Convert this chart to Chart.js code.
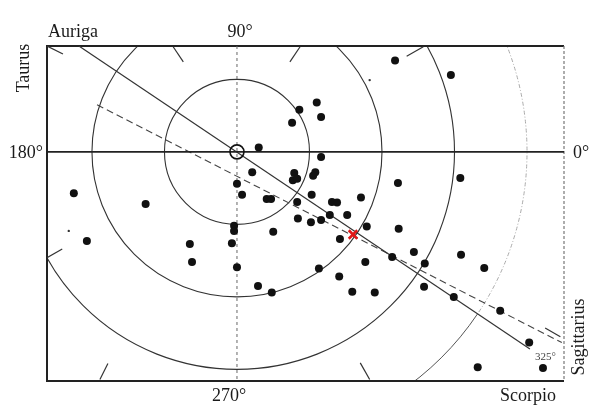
<!DOCTYPE html>
<html>
<head>
<meta charset="utf-8">
<script src="https://cdn.jsdelivr.net/npm/chart.js@4/dist/chart.umd.min.js"></script>
<style>
  html, body { margin: 0; padding: 0; background: #fff; }
  #wrap { width: 600px; height: 413px; }
</style>
</head>
<body>
<div id="wrap"><canvas id="chart" width="600" height="413"></canvas></div>
<script>
// plot units: 10 units = one ring, origin at the small circle
var starX = [-22.5, -20.7, -12.6, -6.5, -6.2, -0.4, -0.4, -0.7, 0, 0, 0.7, 2.1, 3.0, 4.1, 4.7, 5.0, 2.9, 4.8,
  7.6, 8.6, 11.0, 11.6, 11.6, 7.9, 7.7, 8.3, 10.8, 10.5, 10.3, 8.3, 13.1, 13.8, 17.1, 12.8, 15.2, 8.4, 10.2,
  11.6, 17.9, 14.2, 11.3, 14.1, 17.7, 15.9, 19.0, 21.8, 29.5, 22.2, 30.8, 22.3, 24.4, 21.4, 30.9, 25.9, 34.1,
  25.8, 29.9, 36.3, 40.3, 33.2, 42.2];
var starY = [-5.7, -12.3, -7.2, -12.7, -15.2, -10.2, -10.9, -12.6, -15.9, -4.4, -5.9, -2.8, 0.6, -6.5, -6.5,
  -11.0, -18.5, -19.4, 4.0, 5.8, 6.8, 4.8, -0.7, -2.9, -3.9, -3.7, -2.8, -3.3, -5.9, -6.9, -6.9, -7.0, -6.3,
  -8.7, -8.7, -9.2, -9.7, -9.4, -10.3, -12.0, -16.1, -17.2, -15.2, -19.3, -19.4, 12.6, 10.6, -4.3, -3.6,
  -10.6, -13.8, -14.5, -14.2, -15.4, -16.0, -18.6, -20.0, -21.9, -26.3, -29.7, -29.8];
var faintX = [-23.2, 18.3];
var faintY = [-10.9, 9.9];
var apexX = [16.0];
var apexY = [-11.4];

var ringRadii = [10, 20, 30, 40];
var solidLineX = [-21.8, 40.4];
var solidLineY = [14.6, -27.2];
var dashLineX = [-19.3, 44.8];
var dashLineY = [6.5, -26.3];
var meridianX = [0, 0];
var meridianY = [14.6, -31.6];
var equatorX = [-26.2, 45.1];
var equatorY = [0, 0];
// short radial marks every 30 degrees along the frame: x1, y1, x2, y2
var tickMarks = [
  [-26.2, 14.6, -24.0, 13.5],
  [-8.8, 14.5, -7.4, 12.4],
  [8.7, 14.5, 7.3, 12.4],
  [25.7, 14.5, 23.4, 13.2],
  [-26.2, -14.6, -24.1, -13.4],
  [-18.9, -31.4, -17.8, -29.2],
  [18.3, -31.4, 17.0, -29.1],
  [44.6, -25.5, 42.5, -24.3]
];

function toPoints(xs, ys) {
  var pts = [];
  for (var i = 0; i < xs.length; i++) {
    pts.push({ x: xs[i], y: ys[i] });
  }
  return pts;
}

function lineSet(xs, ys, color, width, dash) {
  return {
    type: 'line',
    data: toPoints(xs, ys),
    borderColor: color,
    borderWidth: width,
    borderDash: dash || [],
    pointRadius: 0,
    fill: false,
    order: 5
  };
}

var datasets = [];
datasets.push(lineSet(equatorX, equatorY, '#222', 1.6));
datasets.push(lineSet(meridianX, meridianY, '#666', 1, [3, 3]));
datasets.push(lineSet(solidLineX, solidLineY, '#333', 1.2));
datasets.push(lineSet(dashLineX, dashLineY, '#444', 1.1, [7, 4]));
for (var t = 0; t < tickMarks.length; t++) {
  datasets.push(lineSet([tickMarks[t][0], tickMarks[t][2]], [tickMarks[t][1], tickMarks[t][3]], '#333', 1.2));
}
datasets.push({
  type: 'scatter',
  data: [{ x: 0, y: 0 }],
  pointRadius: 7,
  pointBackgroundColor: 'rgba(255,255,255,0)',
  pointBorderColor: '#111',
  pointBorderWidth: 1.6,
  order: 2
});
datasets.push({
  type: 'scatter',
  data: toPoints(starX, starY),
  pointRadius: 4,
  pointBackgroundColor: '#111',
  pointBorderColor: '#111',
  pointBorderWidth: 0,
  order: 1
});
datasets.push({
  type: 'scatter',
  data: toPoints(faintX, faintY),
  pointRadius: 1.2,
  pointBackgroundColor: '#333',
  pointBorderWidth: 0,
  order: 1
});
datasets.push({
  type: 'scatter',
  data: toPoints(apexX, apexY),
  pointStyle: 'crossRot',
  pointRadius: 6,
  pointBorderColor: '#e01818',
  pointBorderWidth: 2.6,
  order: 0
});

var ringsPlugin = {
  id: 'rings',
  beforeDatasetsDraw: function(chart) {
    var ctx = chart.ctx;
    var area = chart.chartArea;
    var xs = chart.scales.x;
    var ys = chart.scales.y;
    var cx = xs.getPixelForValue(0);
    var cy = ys.getPixelForValue(0);
    ctx.save();
    ctx.beginPath();
    ctx.rect(area.left, area.top, area.right - area.left, area.bottom - area.top);
    ctx.clip();
    for (var i = 0; i < ringRadii.length; i++) {
      var r = xs.getPixelForValue(ringRadii[i]) - cx;
      if (i < ringRadii.length - 1) {
        ctx.beginPath();
        ctx.arc(cx, cy, r, 0, Math.PI * 2);
        ctx.strokeStyle = '#333';
        ctx.lineWidth = 1.1;
        ctx.setLineDash([]);
        ctx.stroke();
      } else {
        // outer ring: faint dotted above, solid lower part
        ctx.beginPath();
        ctx.arc(cx, cy, r, -Math.PI / 2, Math.PI * 34 / 180);
        ctx.strokeStyle = '#aaa';
        ctx.lineWidth = 1;
        ctx.setLineDash([4, 2, 1, 2]);
        ctx.stroke();
        ctx.beginPath();
        ctx.arc(cx, cy, r, Math.PI * 34 / 180, Math.PI * 128 / 180);
        ctx.strokeStyle = '#555';
        ctx.lineWidth = 1;
        ctx.setLineDash([]);
        ctx.stroke();
      }
    }
    ctx.restore();

    // frame
    ctx.save();
    ctx.strokeStyle = '#222';
    ctx.lineWidth = 2;
    ctx.beginPath();
    ctx.moveTo(area.right, area.top);
    ctx.lineTo(area.left, area.top);
    ctx.lineTo(area.left, area.bottom);
    ctx.lineTo(area.right, area.bottom);
    ctx.stroke();
    ctx.strokeStyle = '#777';
    ctx.lineWidth = 1.2;
    ctx.setLineDash([3, 2]);
    ctx.beginPath();
    ctx.moveTo(area.right, area.top);
    ctx.lineTo(area.right, area.bottom);
    ctx.stroke();
    ctx.restore();
  },
  afterDraw: function(chart) {
    var ctx = chart.ctx;
    var xs = chart.scales.x;
    var ys = chart.scales.y;
    var cx = xs.getPixelForValue(0);
    var cy = ys.getPixelForValue(0);
    var area = chart.chartArea;
    ctx.save();
    ctx.fillStyle = '#1a1a1a';
    ctx.font = '18px "Liberation Serif", "DejaVu Serif", serif';
    ctx.textBaseline = 'alphabetic';
    ctx.textAlign = 'left';
    ctx.fillText('Auriga', area.left + 1, 37);
    ctx.textAlign = 'center';
    ctx.fillText('90°', cx + 3, 37);
    ctx.fillText('270°', cx - 8, 401);
    ctx.textAlign = 'right';
    ctx.fillText('180°', 43, cy + 6);
    ctx.fillText('Scorpio', 556, 401);
    ctx.textAlign = 'left';
    ctx.fillText('0°', area.right + 9, cy + 6);

    ctx.save();
    ctx.translate(29, 68);
    ctx.rotate(-Math.PI / 2);
    ctx.textAlign = 'center';
    ctx.fillText('Taurus', 0, 0);
    ctx.restore();

    ctx.save();
    ctx.translate(584, 337);
    ctx.rotate(-Math.PI / 2);
    ctx.textAlign = 'center';
    ctx.fillText('Sagittarius', 0, 0);
    ctx.restore();

    ctx.font = '11px "Liberation Serif", "DejaVu Serif", serif';
    ctx.fillStyle = '#444';
    ctx.textAlign = 'left';
    ctx.fillText('325°', 535, 360);
    ctx.restore();
  }
};

var ctx = document.getElementById('chart').getContext('2d');
var chart = new Chart(ctx, {
  type: 'scatter',
  data: { datasets: datasets },
  options: {
    responsive: false,
    devicePixelRatio: 1,
    animation: false,
    layout: {
      padding: { left: 47, right: 36, top: 46, bottom: 32 }
    },
    scales: {
      x: { type: 'linear', display: false, min: -26.2, max: 45.1 },
      y: { type: 'linear', display: false, min: -31.6, max: 14.6 }
    },
    plugins: {
      legend: { display: false },
      tooltip: { enabled: false }
    }
  },
  plugins: [ringsPlugin]
});
</script>
</body>
</html>
